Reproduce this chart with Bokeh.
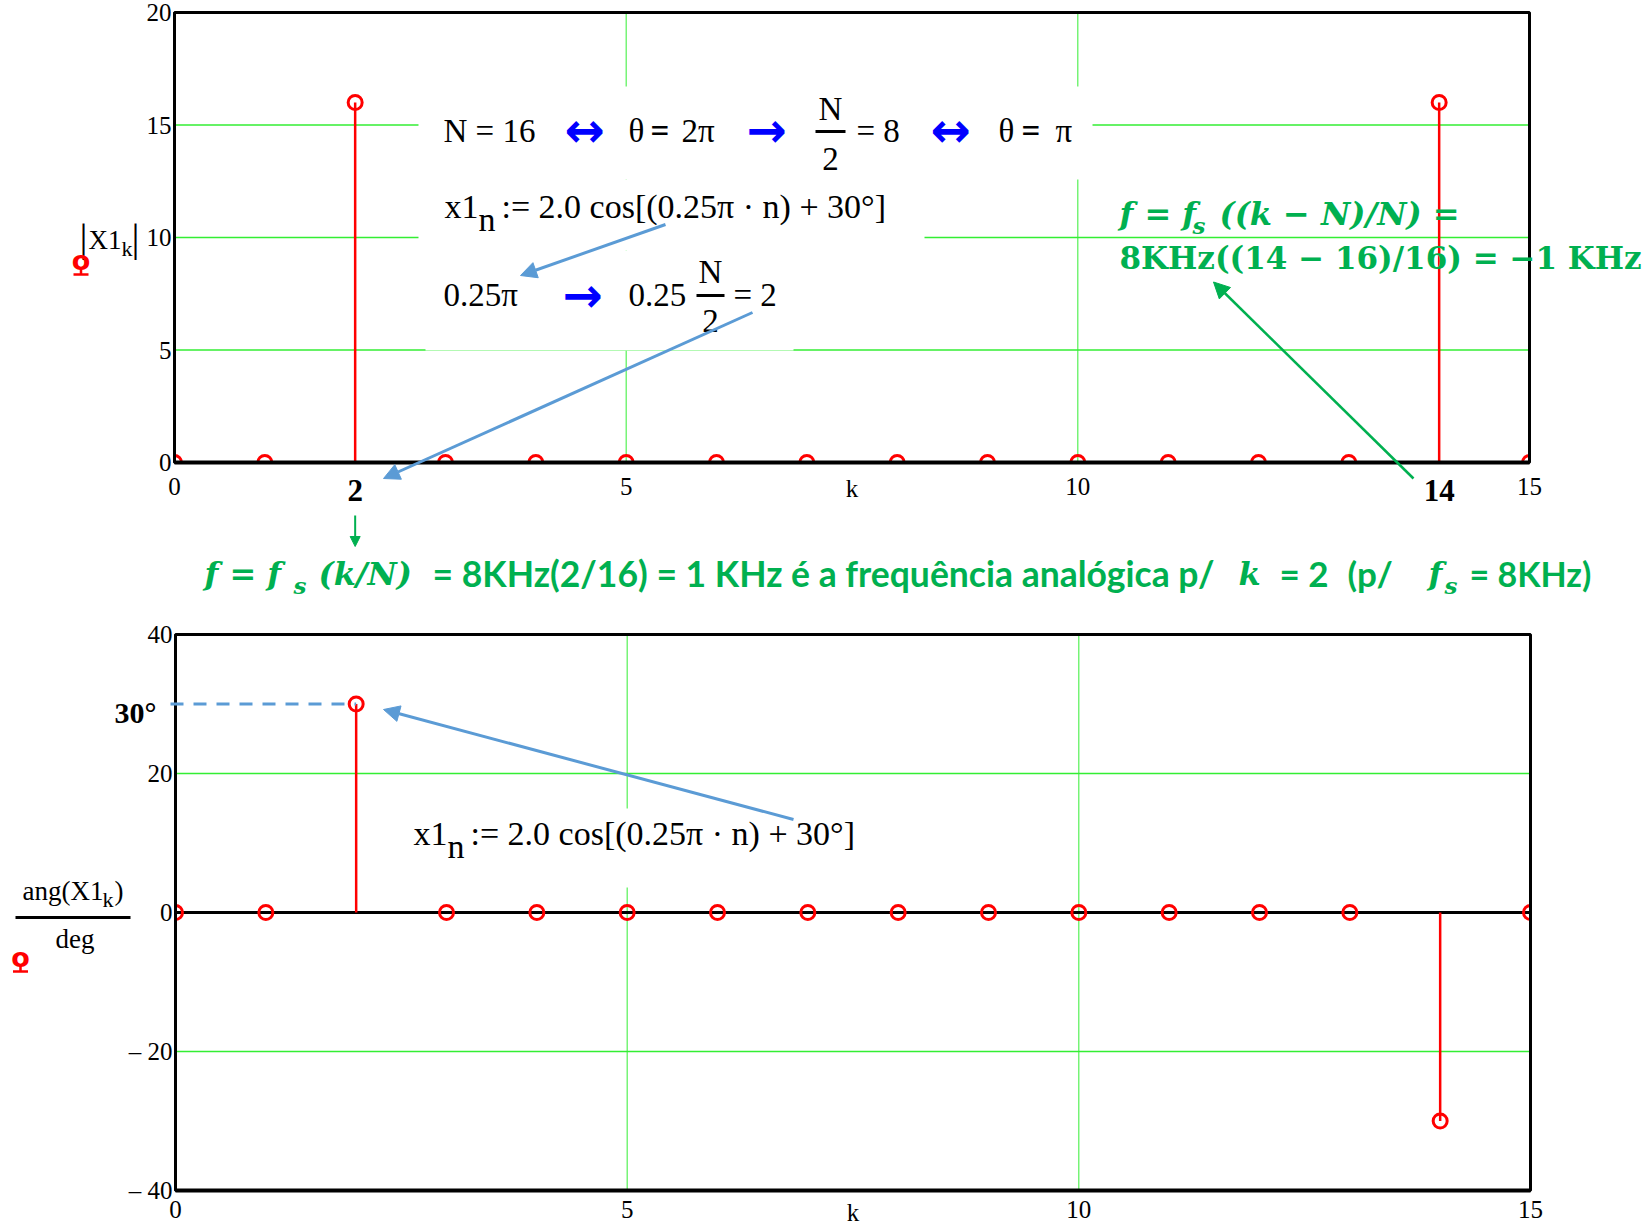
import math

from bokeh.plotting import figure
from bokeh.models import (Label, Arrow, NormalHead, TeeHead, BoxAnnotation,
                          FixedTicker, Range1d, LinearAxis)
from bokeh.layouts import column
from bokeh.embed import file_html
from bokeh.resources import INLINE

# 16-point DFT of x1[n] = 2.0 cos(0.25*pi*n + 30 deg)
k = list(range(16))
mag = [0, 0, 16, 0, 0, 0, 0, 0, 0, 0, 0, 0, 0, 0, 16, 0]
phase_deg = [0, 0, 30, 0, 0, 0, 0, 0, 0, 0, 0, 0, 0, 0, -30, 0]
k_ticks = [0, 5, 10, 15]
mag_ticks = [0, 5, 10, 15, 20]
phase_ticks = [-40, -20, 0, 20, 40]
phase_tick_labels = {-40: "– 40", -20: "– 20"}

PAGE_W = 1647
TOP_H, BOT_H = 610, 618
SERIF = "Liberation Serif"
MATH = "DejaVu Serif"
SANS = "Lato"
ARROWS = "DejaVu Sans"
RED = "#ff0000"
GRID = "#33ee33"
ARROW_BLUE = "#5b9bd5"
OP_BLUE = "#0000ff"
GREEN = "#00b050"
K_LO, K_HI = 0, 15
PX_PER_K = 1355 / 15
BASELINE_LIFT = 0.35  # label anchor sits this many ems above the drawn baseline


# page-pixel -> data helpers (each canvas is one full-width frame)
def top_x(px):
    return (px - 174) / PX_PER_K


def top_y(py):
    return (462 - py) / 22.5


def bot_x(px):
    return (px - 175) / PX_PER_K


def bot_y(py):
    return (912 - py) / 6.95


PAGE_Y = {}


def clip_window(x, y, y_lo, y_hi):
    """Angular window of a marker that sits on the edge of the plot box."""
    inward = []
    if y == y_lo:
        inward.append(math.pi / 2)
    if y == y_hi:
        inward.append(-math.pi / 2)
    if x == K_LO:
        inward.append(0.0)
    if x == K_HI:
        inward.append(math.pi)
    if not inward:
        return None
    mid = math.atan2(sum(math.sin(a) for a in inward), sum(math.cos(a) for a in inward))
    half = math.pi / 2 if len(inward) == 1 else math.pi / 4
    return mid - half, mid + half


def stem_plot(height, x_range, y_range, y_lo, y_hi, y_ticks, yvals, x_axis_at):
    p = figure(width=PAGE_W, height=height, x_range=x_range, y_range=y_range,
               min_border=0, x_axis_location=None, y_axis_location=None,
               output_backend="svg", toolbar_location=None)
    p.outline_line_color = None
    p.background_fill_color = "white"
    p.border_fill_color = "white"
    for g in p.grid:
        g.visible = False

    gx = [t for t in k_ticks if K_LO < t < K_HI]
    p.segment(x0=gx, y0=[y_lo] * len(gx), x1=gx, y1=[y_hi] * len(gx),
              line_color=GRID, line_width=1)
    gy = [t for t in y_ticks if y_lo < t < y_hi and t != 0]
    p.segment(x0=[K_LO] * len(gy), y0=gy, x1=[K_HI] * len(gy), y1=gy,
              line_color=GRID, line_width=1.3)
    if y_lo < 0 < y_hi:
        p.segment(x0=[K_LO], y0=[0], x1=[K_HI], y1=[0], line_color="black", line_width=3)

    p.segment(x0=k, y0=[0] * len(k), x1=k, y1=yvals, line_color=RED, line_width=2.5)
    full_x, full_y, arc_x, arc_y, a0, a1 = [], [], [], [], [], []
    for x, y in zip(k, yvals):
        w = clip_window(x, y, y_lo, y_hi)
        if w is None:
            full_x.append(x)
            full_y.append(y)
        else:
            arc_x.append(x)
            arc_y.append(y)
            a0.append(w[0])
            a1.append(w[1])
    p.scatter(x=full_x, y=full_y, marker="circle", size=14, fill_color=None,
              line_color=RED, line_width=3)
    p.arc(x=arc_x, y=arc_y, radius=7, radius_units="screen", start_angle=a0,
          end_angle=a1, line_color=RED, line_width=3)

    xa = LinearAxis(fixed_location=x_axis_at, bounds=(K_LO, K_HI),
                    ticker=FixedTicker(ticks=k_ticks))
    ya = LinearAxis(fixed_location=K_LO, bounds=(y_lo, y_hi),
                    ticker=FixedTicker(ticks=y_ticks))
    for ax in (xa, ya):
        ax.major_tick_line_color = None
        ax.minor_tick_line_color = None
        ax.major_tick_out = 0
        ax.major_tick_in = 0
        ax.major_label_text_font = SERIF
        ax.major_label_text_font_size = "25px"
        ax.major_label_text_color = "black"
        ax.axis_line_color = "black"
        ax.axis_line_width = 3
    xa.axis_line_width = 4
    xa.major_label_standoff = 10
    ya.major_label_standoff = 3
    p.add_layout(xa, "below")
    p.add_layout(ya, "left")

    p.add_layout(BoxAnnotation(left=K_LO, right=K_HI, bottom=y_lo, top=y_hi,
                               fill_color=None, line_color="black", line_alpha=1.0,
                               line_width=3))
    return p


def txt(p, x, py, text, size, color="black", font=SERIF, style="normal", align="left"):
    """Label whose alphabetic baseline lands on page row py."""
    y = PAGE_Y[p.id](py - BASELINE_LIFT * size)
    p.add_layout(Label(x=x, y=y, text=text, text_font=font,
                       text_font_size=f"{size}px", text_color=color,
                       text_font_style=style, text_align=align,
                       text_baseline="alphabetic"))


def seg(p, x0, y0, x1, y1, color, width, head=None, dash="solid"):
    p.add_layout(Arrow(x_start=x0, y_start=y0, x_end=x1, y_end=y1, end=head,
                       line_color=color, line_width=width, line_dash=dash))


def head(color, size):
    return NormalHead(size=size, fill_color=color, line_color=color, line_width=1)


# ---------------- magnitude |X1_k| ----------------
top = stem_plot(TOP_H, Range1d(top_x(0), top_x(PAGE_W)), Range1d(top_y(TOP_H), top_y(0)),
                0, 20, mag_ticks, mag, 0)
top.xaxis.major_label_standoff = 15
PAGE_Y[top.id] = top_y
tx, ty = top_x, top_y

# white panels behind the worked formulas
for l, r, t, b in [(418, 1092, 86, 179), (418, 924, 179, 250), (425, 793, 250, 350)]:
    top.add_layout(BoxAnnotation(left=tx(l), right=tx(r), top=ty(t), bottom=ty(b),
                                 fill_color="white", fill_alpha=1.0, line_color=None))

# N = 16 <-> theta = 2pi -> N/2 = 8 <-> theta = pi
txt(top, tx(443), 142, "N = 16", 33)
txt(top, tx(564), 146, "↔", 48, OP_BLUE, ARROWS, "bold")
txt(top, tx(628), 142, "θ", 33)
txt(top, tx(650), 142, "=", 33, style="bold")
txt(top, tx(681), 142, "2π", 33)
txt(top, tx(746), 146, "→", 48, OP_BLUE, ARROWS, "bold")
txt(top, tx(830), 120, "N", 33, align="center")
seg(top, tx(815), ty(131), tx(845), ty(131), "black", 3)
txt(top, tx(830), 170, "2", 33, align="center")
txt(top, tx(856), 142, "= 8", 33)
txt(top, tx(930), 146, "↔", 48, OP_BLUE, ARROWS, "bold")
txt(top, tx(998), 142, "θ", 33)
txt(top, tx(1021), 142, "=", 33, style="bold")
txt(top, tx(1055), 142, "π", 33)

# x1_n := 2.0 cos[(0.25 pi n) + 30 deg]
txt(top, tx(444), 218, "x1", 34)
txt(top, tx(478), 231, "n", 34)
txt(top, tx(501), 218, ":= 2.0 cos[(0.25π · n) + 30°]", 34)

# 0.25pi -> 0.25 N/2 = 2
txt(top, tx(443), 306, "0.25π", 33)
txt(top, tx(562), 311, "→", 48, OP_BLUE, ARROWS, "bold")
txt(top, tx(628), 306, "0.25", 33)
txt(top, tx(710), 283, "N", 33, align="center")
seg(top, tx(696), ty(295), tx(724), ty(295), "black", 3)
txt(top, tx(710), 332, "2", 33, align="center")
txt(top, tx(733), 306, "= 2", 33)

seg(top, tx(665), ty(224), tx(520), ty(275), ARROW_BLUE, 3, head(ARROW_BLUE, 16))
seg(top, tx(752), ty(312), tx(383), ty(478), ARROW_BLUE, 3, head(ARROW_BLUE, 16))

# negative-frequency note for k = 14
txt(top, tx(1119), 225, "f = f", 32, GREEN, MATH, "bold italic")
txt(top, tx(1192), 233, "s", 23, GREEN, MATH, "bold italic")
txt(top, tx(1219), 225, "((k − N)/N) =", 32, GREEN, MATH, "bold italic")
txt(top, tx(1119), 268, "8KHz((14 − 16)/16) = −1 KHz", 31, GREEN, MATH, "bold")
seg(top, tx(1413), ty(478), tx(1213), ty(281.5), GREEN, 2.5, head(GREEN, 16))

# axis row: bold bin markers and the k label
peaks = [kk for kk, m in zip(k, mag) if m > 0]
for kk in peaks:
    txt(top, kk, 501, str(kk), 31, style="bold", align="center")
txt(top, 7.5, 497, "k", 25, align="center")

# |X1_k| label with its trace symbol
txt(top, tx(79), 251, "|", 40)
txt(top, tx(88), 249, "X1", 27)
txt(top, tx(121), 256, "k", 22)
txt(top, tx(131), 251, "|", 40)
txt(top, tx(80.5), 269.5, "o", 27, RED, "DejaVu Sans", "bold", align="center")
seg(top, tx(80.5), ty(268), tx(80.5), ty(274), RED, 2.5,
    TeeHead(size=15, line_color=RED, line_width=2.5))

# analog frequency for k = 2
seg(top, peaks[0], ty(515), peaks[0], ty(546), GREEN, 2, head(GREEN, 10))
txt(top, tx(204), 585, "f = f", 32, GREEN, MATH, "bold italic")
txt(top, tx(293), 593, "s", 23, GREEN, MATH, "bold italic")
txt(top, tx(318), 585, "(k/N)", 32, GREEN, MATH, "bold italic")
txt(top, tx(432), 585, "= 8KHz(2/16) = 1 KHz é a frequência analógica p/", 35.5, GREEN, SANS, "bold")
txt(top, tx(1238), 585, "k", 32, GREEN, MATH, "bold italic")
txt(top, tx(1279), 585, "= 2", 35, GREEN, SANS, "bold")
txt(top, tx(1347), 585, "(p/", 35, GREEN, SANS, "bold")
txt(top, tx(1428), 585, "f", 32, GREEN, MATH, "bold italic")
txt(top, tx(1444), 593, "s", 23, GREEN, MATH, "bold italic")
txt(top, tx(1469), 585, "= 8KHz)", 34, GREEN, SANS, "bold")

# ---------------- phase ang(X1_k)/deg ----------------
bot = stem_plot(BOT_H, Range1d(bot_x(0), bot_x(PAGE_W)),
                Range1d(bot_y(TOP_H + BOT_H), bot_y(TOP_H)),
                -40, 40, phase_ticks, phase_deg, -40)
bot.yaxis.major_label_overrides = phase_tick_labels
PAGE_Y[bot.id] = bot_y
bx, by = bot_x, bot_y

bot.add_layout(BoxAnnotation(left=bx(405), right=bx(875), top=by(808), bottom=by(887),
                             fill_color="white", fill_alpha=1.0, line_color=None))
txt(bot, bx(413), 845, "x1", 34)
txt(bot, bx(447), 858, "n", 34)
txt(bot, bx(470), 845, ":= 2.0 cos[(0.25π · n) + 30°]", 34)

# phase of bin 2 read back on the axis
seg(bot, bx(170), phase_deg[peaks[0]], peaks[0], phase_deg[peaks[0]], ARROW_BLUE, 3, dash="13 10")
txt(bot, bx(135), 722, f"{phase_deg[peaks[0]]}°", 30, style="bold", align="center")
seg(bot, bx(793), by(819), bx(383), by(709), ARROW_BLUE, 3, head(ARROW_BLUE, 16))

txt(bot, 7.5, 1221, "k", 25, align="center")

# ang(X1_k)/deg label with its trace symbol
txt(bot, bx(22), 900, "ang(X1", 27)
txt(bot, bx(102), 907, "k", 22)
txt(bot, bx(114), 900, ")", 27)
seg(bot, bx(15), by(917), bx(130), by(917), "black", 3)
txt(bot, bx(55), 948, "deg", 27)
txt(bot, bx(20), 966.5, "o", 27, RED, "DejaVu Sans", "bold", align="center")
seg(bot, bx(20), by(965), bx(20), by(971), RED, 2.5,
    TeeHead(size=15, line_color=RED, line_width=2.5))

layout = column(top, bot)
open("out.html", "w").write(file_html(layout, INLINE))
